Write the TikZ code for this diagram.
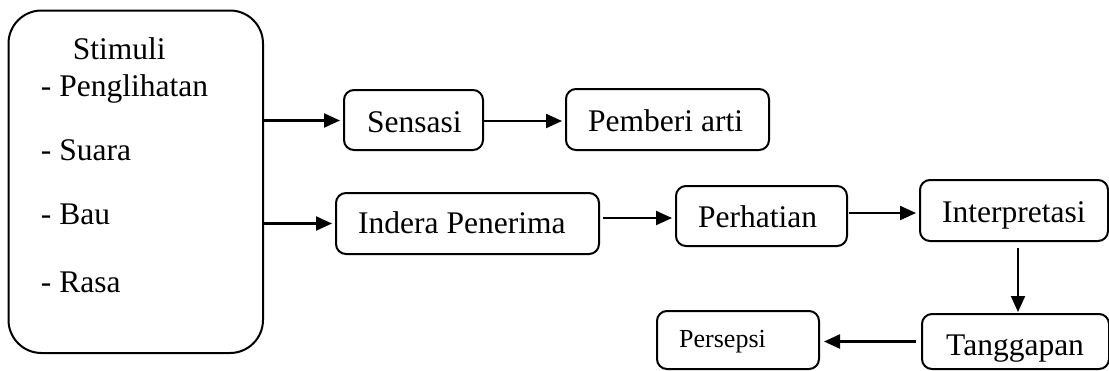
\documentclass[tikz,border=0pt]{standalone}
\usepackage{fontspec}
\setmainfont{Liberation Serif}
\usetikzlibrary{arrows.meta}
\tikzset{
  box/.style={draw, line width=2pt, rounded corners=10pt, rectangle, inner sep=0pt, anchor=north west},
  lbl/.style={anchor=base west, inner sep=0pt, font=\fontsize{31.5}{36}\selectfont},
  smalllbl/.style={anchor=base west, inner sep=0pt, font=\fontsize{26}{30}\selectfont},
  arr/.style={line width=2.2pt, -{Triangle[length=16pt,width=14pt]}, shorten >=3pt}
}
\begin{document}
\begin{tikzpicture}[x=1pt,y=-1pt]
\useasboundingbox (0,0) rectangle (1109,370);
% boxes
\node[box, rounded corners=33pt, minimum width=254.5pt, minimum height=342.5pt] (stim) at (7.5,9.5) {};
\node[box, minimum width=139pt, minimum height=60pt] (sens) at (343,89) {};
\node[box, minimum width=203pt, minimum height=61pt] (pemb) at (565,88) {};
\node[box, minimum width=263pt, minimum height=61pt] (ind) at (335,192) {};
\node[box, minimum width=171pt, minimum height=60pt] (perh) at (675,185) {};
\node[box, minimum width=188pt, minimum height=61pt] (interp) at (919,179) {};
\node[box, minimum width=187pt, minimum height=55pt] (tang) at (921,313) {};
\node[box, minimum width=162pt, minimum height=58pt] (pers) at (656,310) {};
% labels
\node[lbl] (tstim) at (72.7,59) {Stimuli};
\node[lbl] (t1) at (40.7,96.7) {- Penglihatan};
\node[lbl] (t2) at (40.7,160.7) {- Suara};
\node[lbl] (t3) at (40.7,224) {- Bau};
\node[lbl] (t4) at (40.7,292.7) {- Rasa};
\node[lbl] (tsens) at (367,132) {Sensasi};
\node[lbl] (tpemb) at (588,131.7) {Pemberi arti};
\node[lbl] (tind) at (358,233) {Indera Penerima};
\node[lbl] (tperh) at (698,227) {Perhatian};
\node[lbl] (tinterp) at (942,222) {Interpretasi};
\node[lbl] (ttang) at (946,355) {Tanggapan};
\node[smalllbl] (tpers) at (679,347) {Persepsi};
% connectors
\draw[arr] ([yshift=-0.5pt]sens.west -| stim.east) -- ([yshift=-0.5pt]sens.west);
\draw[arr] ([yshift=-1pt]sens.east) -- ([yshift=-1pt]sens.east -| pemb.west);
\draw[arr] (ind.west -| stim.east) -- (ind.west);
\draw[arr, shorten <=3pt] ([yshift=-2pt]perh.west -| ind.east) -- ([yshift=-2pt]perh.west);
\draw[arr, shorten <=1pt] ([yshift=-2.5pt]interp.west -| perh.east) -- ([yshift=-2.5pt]interp.west);
\draw[arr, shorten <=6pt, shorten >=1pt] ([xshift=4pt]interp.south) -- ([xshift=4pt]interp.south |- tang.north);
\draw[arr, shorten <=5pt, shorten >=4pt] (tang.west) -- (tang.west -| pers.east);
\end{tikzpicture}
\end{document}
